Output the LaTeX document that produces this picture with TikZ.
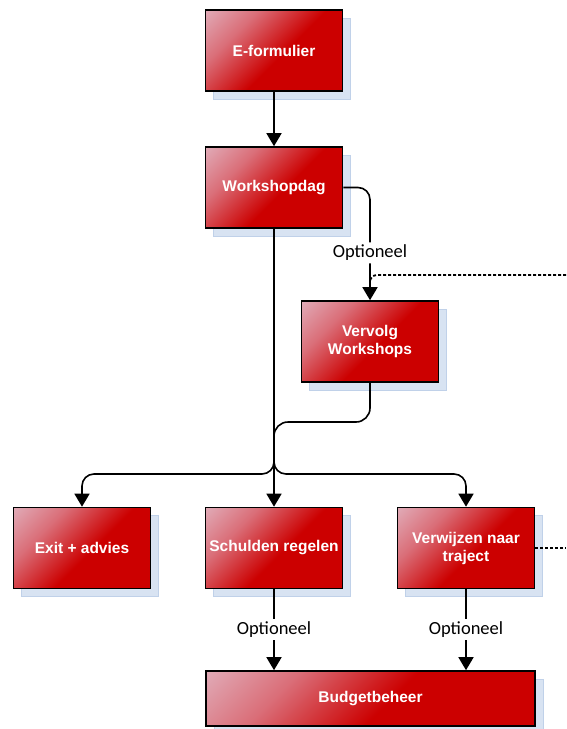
\documentclass[tikz,border=0pt]{standalone}
\usepackage{fontspec}
\newfontfamily\blokfont{Liberation Sans}
\newfontfamily\labelfont{Carlito}
\usetikzlibrary{arrows.meta, shadows}
\definecolor{blokrood}{RGB}{204,0,0}
\definecolor{bloklicht}{RGB}{230,222,236}
\definecolor{blokmidden}{RGB}{218,110,120}
\definecolor{schaduw}{RGB}{216,227,242}
\definecolor{schaduwrand}{RGB}{192,209,233}
\pgfdeclareverticalshading{blokshading}{100bp}{color(0bp)=(blokrood); color(46bp)=(blokrood);
  color(68bp)=(blokmidden); color(100bp)=(bloklicht)}

\begin{document}
\begin{tikzpicture}[x=1pt, y=-1pt,
    blok/.style={draw=black, line width=1.6pt, shading=blokshading, shading angle=45,
      minimum width=137pt, minimum height=81pt, text=white, align=center,
      font=\blokfont\bfseries\fontsize{15.5}{18}\selectfont,
      drop shadow={shadow xshift=8pt, shadow yshift=-8pt, fill=schaduw,
        draw=schaduwrand, line width=0.6pt, opacity=1}},
    lijn/.style={line width=1.6pt},
    pijl/.style={lijn, -{Triangle[width=15pt, length=13pt]}},
    stippel/.style={line width=1.8pt, dash pattern=on 3pt off 2pt},
    optie/.style={fill=white, inner sep=2.5pt,
      font=\labelfont\fontsize{18.5}{21}\selectfont}]

  \useasboundingbox (0,0) rectangle (566,729);

  % Blokken
  \node[blok] (eform) at (274,50.5) {E-formulier};
  \node[blok] (wsdag) at (274,187.5) {Workshopdag};
  \node[blok] (vervolg) at (370,341.5) {Vervolg\\Workshops};
  \node[blok] (exit) at (82,548) {Exit + advies};
  \node[blok] (schulden) at (274,548) {Schulden regelen};
  \node[blok] (verwijzen) at (466,548) {Verwijzen naar\\traject};
  \node[blok, minimum width=329pt, minimum height=55pt]
    (budget) at (370.5,698.5) {Budgetbeheer};

  % Hulppunten
  \coordinate (splits) at (274,474);
  \coordinate (instroom) at (274,422);
  \coordinate (samen) at (274,452);
  \coordinate (aansluiting) at (370,284);
  \coordinate (rechtsboven) at (566,275);
  \coordinate (rechtsonder) at (566,548);

  % Verbindingen
  \draw[pijl] (eform) -- (wsdag);
  \draw[pijl, rounded corners=12pt]
    (wsdag.east) -| node[optie, pos=0.79] {Optioneel} (vervolg.north);
  \draw[stippel, rounded corners=7pt] (rechtsboven) -| (aansluiting);
  \draw[lijn, rounded corners=14pt] (vervolg.south) |- (instroom) -- (samen);
  \draw[pijl] (wsdag) -- (schulden);
  \draw[pijl, rounded corners=12pt] (wsdag.south) -- (splits) -| (exit.north);
  \draw[pijl, rounded corners=12pt] (wsdag.south) -- (splits) -| (verwijzen.north);
  \draw[stippel] (verwijzen) -- (rechtsonder);

  % Optioneel naar budgetbeheer
  \draw[pijl] (schulden) -- node[optie] {Optioneel} (schulden |- budget.north);
  \draw[pijl] (verwijzen) -- node[optie] {Optioneel} (verwijzen |- budget.north);

\end{tikzpicture}
\end{document}
